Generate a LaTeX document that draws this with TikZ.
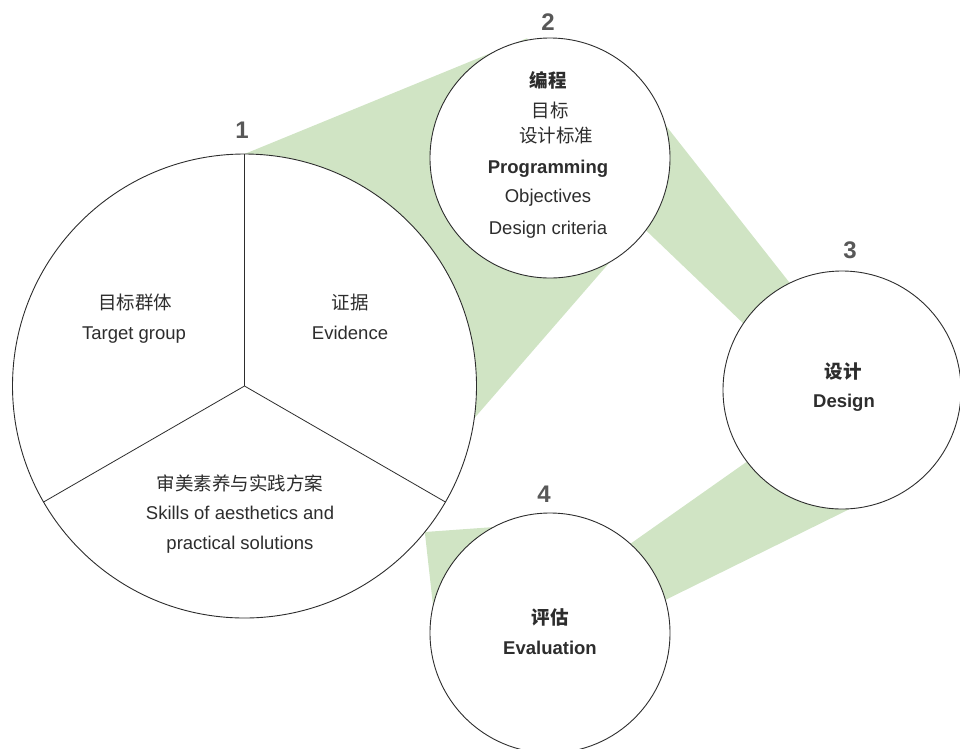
\documentclass[tikz,border=0pt]{standalone}
\usepackage{fontspec}
\setmainfont{Liberation Sans}
\newfontfamily\cjk{Noto Sans CJK SC}
\usetikzlibrary{backgrounds}
\definecolor{band}{RGB}{208,228,196}
\definecolor{ink}{RGB}{45,45,45}
\definecolor{numc}{RGB}{88,88,88}

\begin{document}
\begin{tikzpicture}[x=1pt,y=-1pt,
  ring/.style={circle, draw=ink, line width=0.9pt, fill=white, inner sep=0pt, outer sep=0pt},
  spoke/.style={draw=ink, line width=0.8pt},
  txt/.style={inner sep=0pt, outer sep=0pt, text=ink, text height=14.8pt, text depth=1.5pt,
              font=\fontsize{18.5}{22}\selectfont},
  txtb/.style={txt, font=\fontsize{18.5}{22}\selectfont\bfseries},
  zh/.style={txt, font=\fontsize{18.5}{22}\selectfont\cjk},
  zhb/.style={txt, font=\fontsize{18.5}{22}\selectfont\cjk\bfseries},
  num/.style={inner sep=0pt, text=numc, text height=17.2pt, text depth=0pt,
              font=\fontsize{24}{28}\selectfont\bfseries}
]
\useasboundingbox (0,0) rectangle (960,748);

% the four circles
\node[ring, minimum size=464pt] (c1) at (244.5,386) {};
\node[ring, minimum size=240pt] (c2) at (550,158) {};
\node[ring, minimum size=238pt] (c3) at (842,390) {};
\node[ring, minimum size=240pt] (c4) at (550,633) {};

% green bands linking the circles
\begin{pgfonlayer}{background}
  \fill[band] (c1.90) -- ([yshift=2pt]c2.101) -- (c2.-60) -- (c1.-8) -- cycle;
  \fill[band] (c2.16) -- (c3.116.8) -- (c3.146.6) -- (c2.-37.3) -- cycle;
  \fill[band] (c3.217.5) -- (c4.48.4) -- (c4.16.7) -- (c3.-86) -- cycle;
  \fill[band] (c1.-39.5) -- (c4.118) -- (c4.167) -- cycle;
\end{pgfonlayer}

% three sectors of the first circle
\draw[spoke] (c1.center) -- (c1.90);
\draw[spoke] (c1.center) -- (c1.210);
\draw[spoke] (c1.center) -- (c1.330);

% step numbers
\node[num] (n1) at (242,130) {1};
\node[num] (n2) at (548,22) {2};
\node[num] (n3) at (850,250) {3};
\node[num] (n4) at (544,494) {4};

% circle 1
\node[zh]  (t1a) at (135,303) {目标群体};
\node[txt] (t1b) at (134,333) {Target group};
\node[zh]  (t1c) at (350,303) {证据};
\node[txt] (t1d) at (350,333) {Evidence};
\node[zh]  (t1e) at (240,484) {审美素养与实践方案};
\node[txt] (t1f) at (240,513) {Skills of aesthetics and};
\node[txt] (t1g) at (240,543) {practical solutions};

% circle 2
\node[zhb]  (t2a) at (548,81) {编程};
\node[zh]   (t2b) at (550,111) {目标};
\node[zh]   (t2c) at (556,136) {设计标准};
\node[txtb] (t2d) at (548,167) {Programming};
\node[txt]  (t2e) at (548,196) {Objectives};
\node[txt]  (t2f) at (548,228) {Design criteria};

% circle 3
\node[zhb]  (t3a) at (843,372) {设计};
\node[txtb] (t3b) at (844,401) {Design};

% circle 4
\node[zhb]  (t4a) at (550,618) {评估};
\node[txtb] (t4b) at (550,648) {Evaluation};
\end{tikzpicture}
\end{document}
